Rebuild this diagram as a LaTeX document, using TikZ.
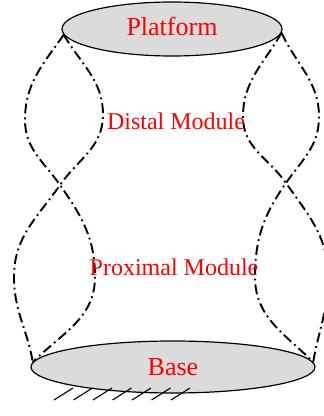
\documentclass[tikz,border=0pt]{standalone}
\usepackage{fontspec}
\setmainfont{Liberation Serif}
\usepackage{tikz}
\usetikzlibrary{shapes.geometric,backgrounds}
\newcommand{\platecolor}{gray!28}
\newcommand{\labelcolor}{red}
\newcommand{\linkwidth}{1.9pt}

\begin{document}
\begin{tikzpicture}[x=1pt,y=1pt,
  plate/.style={ellipse,draw,line width=1.2pt,fill=\platecolor,inner sep=0pt,text=\labelcolor,font=\fontsize{26}{30}\selectfont},
  module/.style={text=\labelcolor,inner sep=0pt,font=\fontsize{24}{28}\selectfont},
  link/.style={line width=\linkwidth,dash pattern=on 10pt off 4pt on 1.8pt off 4pt}]
\useasboundingbox (0,0) rectangle (324,416);
\node[plate,minimum width=220,minimum height=54,text depth=6pt] (platform) at (172,387) {Platform};
\node[plate,minimum width=284,minimum height=52] (base) at (173,49) {Base};
\node[module] (distal) at (176,295) {Distal Module};
\node[module] (proximal) at (174,149) {Proximal Module};
\coordinate (lcross) at (60,231);
\coordinate (rcross) at (286,233);
\coordinate (lupout) at (25,296);
\coordinate (lupin) at (103,301);
\coordinate (llowout) at (14,139);
\coordinate (llowin) at (95,139);
\coordinate (rupin) at (243,299);
\coordinate (rupout) at (319,299);
\coordinate (rlowin) at (255,139);
\coordinate (rlowout) at (328,139);
%left
\begin{scope}[on background layer]
\draw[link] (platform.183) to[out=235,in=90] (lupout) to[out=270,in=125] (lcross)
  to[out=305,in=90] (llowin) to[out=270,in=45] (base.178);
\draw[link] (platform.183) to[out=300,in=90] (lupin) to[out=270,in=55] (lcross)
  to[out=235,in=90] (llowout) to[out=270,in=100] (base.178);
\end{scope}
%right
\begin{scope}[on background layer]
\draw[link] (platform.358) to[out=240,in=90] (rupin) to[out=270,in=125] (rcross)
  to[out=305,in=90] (rlowout) to[out=270,in=80] (base.2);
\draw[link] (platform.358) to[out=295,in=90] (rupout) to[out=270,in=55] (rcross)
  to[out=235,in=90] (rlowin) to[out=270,in=135] (base.2);
\end{scope}
%ground
\foreach \i in {0,...,6}
  \draw[line width=1.1pt] (54+19.5*\i,16) -- ++(19,12);
\end{tikzpicture}
\end{document}
